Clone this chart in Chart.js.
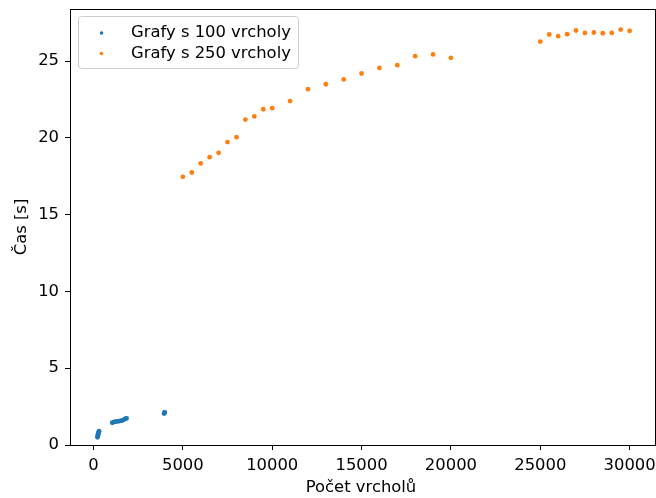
<!DOCTYPE html>
<html>
<head>
<meta charset="utf-8">
<script src="https://cdn.jsdelivr.net/npm/chart.js@4"></script>
<style>
  html, body { margin: 0; padding: 0; background: #fff; }
  #wrap { width: 656px; height: 498px; }
</style>
</head>
<body>
<div id="wrap"><canvas id="chart" width="656" height="498"></canvas></div>
<script>
// data
const xTicks = [0, 5000, 10000, 15000, 20000, 25000, 30000];
const yTicks = [0, 5, 10, 15, 20, 25];

const smallX = [220, 240, 250, 260, 280, 300, 310,
  1050, 1150, 1250, 1350, 1450, 1550, 1650, 1750, 1800, 1850,
  3950, 3970, 3990];
const smallY = [0.5, 0.6, 0.65, 0.7, 0.78, 0.85, 0.9,
  1.45, 1.5, 1.52, 1.54, 1.56, 1.58, 1.62, 1.68, 1.72, 1.74,
  2.05, 2.1, 2.12];

const bigX = [5000, 5500, 6000, 6500, 7000, 7500, 8000, 8500, 9000, 9500, 10000,
  11000, 12000, 13000, 14000, 15000, 16000, 17000, 18000, 19000, 20000,
  25000, 25500, 26000, 26500, 27000, 27500, 28000, 28500, 29000, 29500, 30000];
const bigY = [17.47, 17.75, 18.34, 18.75, 19.03, 19.73, 20.05, 21.2, 21.4, 21.87, 21.94,
  22.4, 23.18, 23.5, 23.81, 24.2, 24.56, 24.74, 25.33, 25.44, 25.22,
  26.28, 26.74, 26.63, 26.76, 27.0, 26.84, 26.87, 26.82, 26.84, 27.06, 26.97];

const labels = ['Grafy s 100 vrcholy', 'Grafy s 250 vrcholy'];
const colors = ['#1f77b4', '#ff7f0e'];

const font = { family: 'DejaVu Sans', size: 16.4 };

function pts(xs, ys) {
  return xs.map((x, i) => ({ x: x, y: ys[i] }));
}

function noPad(s) {
  s.paddingLeft = 0;
  s.paddingRight = 0;
  s.paddingTop = 0;
  s.paddingBottom = 0;
}

// Chart.js keeps a few px on the right, so the frame is drawn out to 655
// and the x max is cut to match (31252 at 652 ~ 31420 at 655)
const frameRight = 655;

const framePlugin = {
  id: 'frame',
  afterDraw(chart) {
    const ctx = chart.ctx;
    const a = chart.chartArea;
    ctx.save();
    ctx.strokeStyle = '#000';
    ctx.lineWidth = 1;
    const l = Math.round(a.left), t = Math.round(a.top), b = Math.round(a.bottom);
    ctx.strokeRect(l + 0.5, t + 0.5, frameRight - l, b - t);

    // legend box
    const bx = 78.5, by = 16.5, bw = 220, bh = 52;
    ctx.fillStyle = 'rgba(255,255,255,0.8)';
    ctx.strokeStyle = '#cccccc';
    ctx.beginPath();
    ctx.roundRect(bx, by, bw, bh, 3);
    ctx.fill();
    ctx.stroke();

    ctx.font = '16.4px "DejaVu Sans"';
    ctx.textBaseline = 'middle';
    labels.forEach((t, i) => {
      const cy = 33 + i * 20.5;
      ctx.fillStyle = colors[i];
      ctx.beginPath();
      ctx.arc(101.5, cy, 1.8, 0, Math.PI * 2);
      ctx.fill();
      ctx.fillStyle = '#000';
      ctx.fillText(t, 131, cy);
    });
    ctx.restore();
  }
};

new Chart(document.getElementById('chart'), {
  type: 'scatter',
  data: {
    datasets: [
      {
        label: labels[0],
        data: pts(smallX, smallY),
        backgroundColor: colors[0],
        borderWidth: 0,
        pointRadius: 2.4
      },
      {
        label: labels[1],
        data: pts(bigX, bigY),
        backgroundColor: colors[1],
        borderWidth: 0,
        pointRadius: 2.4
      }
    ]
  },
  plugins: [framePlugin],
  options: {
    responsive: false,
    animation: false,
    layout: { padding: { top: 9, right: 1, left: 0, bottom: 0 } },
    plugins: {
      legend: { display: false },
      tooltip: { enabled: false }
    },
    scales: {
      x: {
        type: 'linear',
        min: -1315,
        max: 31252,
        afterBuildTicks: (s) => { s.ticks = xTicks.map(v => ({ value: v })); },
        afterFit: (s) => { s.height = 53; noPad(s); },
        grid: { display: true, drawOnChartArea: false, drawTicks: true, tickLength: 5, color: '#000' },
        border: { display: true, color: '#000' },
        ticks: { color: '#000', font: font, padding: 6, maxRotation: 0, callback: (v) => String(v) },
        title: { display: true, text: 'Počet vrcholů', color: '#000', font: font, padding: { top: 2, bottom: 0 } }
      },
      y: {
        type: 'linear',
        min: 0,
        max: 28.4,
        afterBuildTicks: (s) => { s.ticks = yTicks.map(v => ({ value: v })); },
        afterFit: (s) => { s.width = 70; noPad(s); },
        grid: { display: true, drawOnChartArea: false, drawTicks: true, tickLength: 5, color: '#000' },
        border: { display: true, color: '#000' },
        ticks: { color: '#000', font: font, padding: 6 },
        title: { display: true, text: 'Čas [s]', color: '#000', font: font, padding: { top: 12, bottom: 0 } }
      }
    }
  }
});
</script>
</body>
</html>
